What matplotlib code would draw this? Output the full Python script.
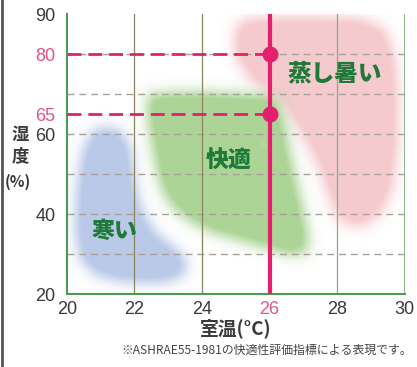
import numpy as np
import matplotlib
matplotlib.use("Agg")
import matplotlib.pyplot as plt
from matplotlib.path import Path

plt.rcParams['font.family'] = ['Liberation Sans', 'Noto Sans CJK JP', 'DejaVu Sans']
jp = ['Noto Sans CJK JP', 'DejaVu Sans']

# axis ticks
x_ticks = [20, 22, 24, 26, 28, 30]
y_ticks = [20, 40, 60, 65, 80, 90]
y_grid = [30, 40, 50, 60, 70, 80]
set_temp = 26
set_hums = [80, 65]

# zones (temperature, humidity) outlines
cold_x = [20.99, 21.58, 21.87, 21.96, 22.17, 22.61, 23.2, 23.56, 23.41, 22.76, 21.58, 20.84, 20.39, 20.25, 20.3, 20.45, 20.69]
cold_y = [61.6, 60.6, 56.1, 48.6, 41.1, 34.8, 31.1, 28.1, 24.1, 22.8, 23.1, 24.8, 28.6, 36.1, 46.1, 54.8, 59.8]
comf_x = [22.38, 23.94, 26.16, 26.4, 26.55, 26.75, 26.96, 27.14, 27.05, 26.61, 25.42, 24.24, 23.65, 23.06, 22.76, 22.55, 22.41]
comf_y = [69.8, 70.1, 69.3, 63.6, 56.1, 48.6, 41.1, 33.6, 29.8, 29.8, 32.8, 35.6, 38.1, 42.3, 47.3, 56.1, 63.6]
hot_x = [25.28, 26.9, 28.68, 29.42, 29.71, 29.8, 29.77, 29.62, 29.27, 28.68, 28.09, 27.79, 27.5, 27.05, 26.61, 26.31, 25.42, 24.98, 24.98]
hot_y = [88.6, 89.0, 88.6, 86.1, 78.6, 68.6, 56.1, 46.1, 39.8, 36.6, 38.1, 43.6, 51.1, 58.6, 64.8, 68.6, 73.6, 79.8, 86.1]

pink = '#e2206e'
green = '#1f7a3a'


def soft_blob(ax, xs, ys, color, alpha, sigma=7.0):
    # rasterise the outline and blur it so the edges look airbrushed
    nx, ny = 340, 280
    gx = np.linspace(20, 30, nx)
    gy = np.linspace(20, 90, ny)
    X, Y = np.meshgrid(gx, gy)
    path = Path(np.column_stack([xs, ys]))
    m = path.contains_points(np.column_stack([X.ravel(), Y.ravel()])).reshape(ny, nx).astype(float)
    r = int(3 * sigma)
    k = np.exp(-np.arange(-r, r + 1) ** 2 / (2 * sigma ** 2))
    k /= k.sum()
    m = np.apply_along_axis(lambda v: np.convolve(v, k, mode='same'), 1, m)
    m = np.apply_along_axis(lambda v: np.convolve(v, k, mode='same'), 0, m)
    m = np.clip(m * 1.3, 0, 1)
    rgba = np.zeros((ny, nx, 4))
    rgba[..., :3] = matplotlib.colors.to_rgb(color)
    rgba[..., 3] = m * alpha
    ax.imshow(rgba, extent=[20, 30, 20, 90], origin='lower', aspect='auto',
              interpolation='bilinear', zorder=1)


fig = plt.figure(figsize=(4.17, 3.67), dpi=100)
ax = fig.add_axes([0.16, 0.198, 0.8105, 0.763])

soft_blob(ax, cold_x, cold_y, '#a8bce1', 0.8)
soft_blob(ax, hot_x, hot_y, '#f2b5bb', 0.72)
soft_blob(ax, comf_x, comf_y, '#9ecd84', 0.85)

# grid
for yv in y_grid:
    ax.axhline(yv, color='#a8a299', lw=1, ls=(0, (5, 3.5)), zorder=2)
for xv in [22, 24]:
    ax.axvline(xv, color='#8a8560', lw=0.9, zorder=2)
ax.axvline(28, color='#8fa88a', lw=0.9, zorder=2)
ax.axvline(30, color='#7aa877', lw=1.2, zorder=2)

# set-point lines
for h in set_hums:
    ax.plot([20, set_temp], [h, h], color=pink, lw=2, ls=(0, (5, 2.5)), zorder=3)
ax.plot([set_temp, set_temp], [20, 90], color=pink, lw=3, zorder=4)
ax.scatter([set_temp] * len(set_hums), set_hums, s=110, color=pink, zorder=5)

ax.text(21.4, 35.6, '寒い', color=green, fontsize=16.5, fontweight='heavy', family=jp, ha='center', va='center', zorder=6)
ax.text(24.8, 53.6, '快適', color=green, fontsize=16.5, fontweight='heavy', family=jp, ha='center', va='center', zorder=6)
ax.text(25.78, 57.3, '※', color='#d8d8c0', fontsize=5, family=jp, ha='center', va='center', zorder=6)
ax.text(27.94, 75.3, '蒸し暑い', color=green, fontsize=17, fontweight='heavy', family=jp, ha='center', va='center', zorder=6)

ax.set_xlim(20, 30)
ax.set_ylim(20, 90)
for s in ['top', 'right']:
    ax.spines[s].set_visible(False)
for s in ['left', 'bottom']:
    ax.spines[s].set_color('#4f9a52')
    ax.spines[s].set_linewidth(1.5)
ax.set_xticks(x_ticks)
ax.set_yticks(y_ticks)
ax.tick_params(length=0, labelsize=13, labelcolor='#3a3a3a')
ax.tick_params(axis='x', pad=5)
ax.tick_params(axis='y', pad=8)
for lab in ax.get_xticklabels():
    if lab.get_text() == '26':
        lab.set_color('#e0558a')
for lab in ax.get_yticklabels():
    if lab.get_text() in ('80', '65'):
        lab.set_color('#e0558a')

ax.set_xlabel('室温(°C)', fontsize=13.5, fontweight='bold', family=jp, color='#3a3a3a', labelpad=0)
fig.text(0.048, 0.632, '湿', fontsize=12.5, fontweight='bold', family=jp, color='#3a3a3a', ha='center', va='center')
fig.text(0.048, 0.575, '度', fontsize=12.5, fontweight='bold', family=jp, color='#3a3a3a', ha='center', va='center')
fig.text(0.043, 0.504, '(%)', fontsize=11, fontweight='bold', family=jp, color='#3a3a3a', ha='center', va='center')

fig.text(0.988, 0.046, '※ASHRAE55-1981の快適性評価指標による表現です。', fontsize=8.6, family=jp, color='#444444', ha='right', va='center')

# left edge frame
fig.add_artist(plt.Line2D([0.004, 0.004], [0, 1], color='#5a5050', lw=2))

fig.savefig('out.png', dpi=100)
